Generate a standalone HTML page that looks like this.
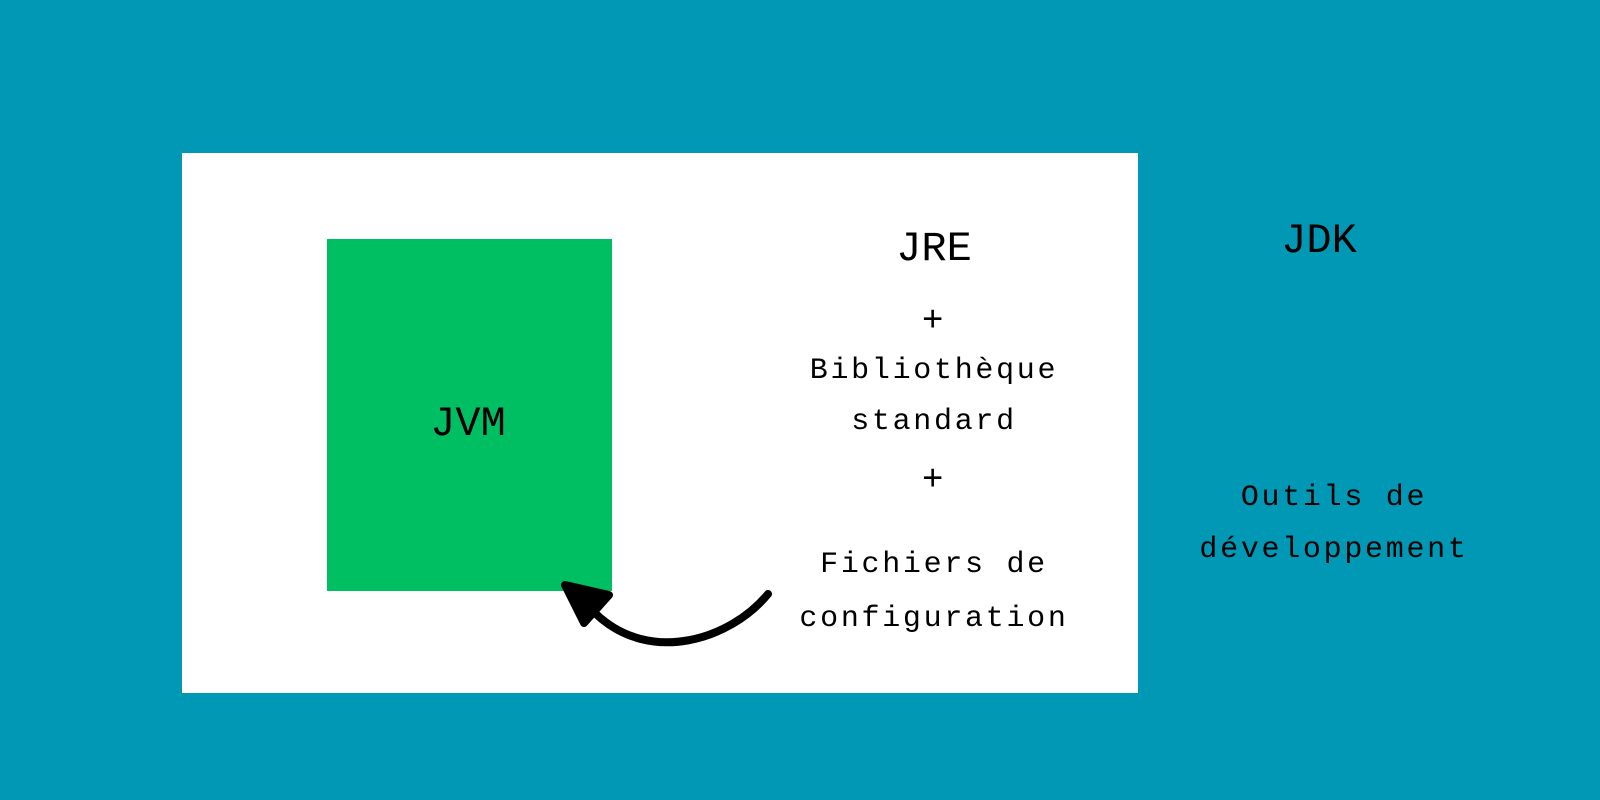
<!DOCTYPE html>
<html><head><meta charset="utf-8"><style>html,body{margin:0;padding:0;background:#0098b4;}svg{display:block}</style></head>
<body>
<svg width="1600" height="800" viewBox="0 0 1600 800" xmlns="http://www.w3.org/2000/svg">
<rect width="1600" height="800" fill="#0098b4"/>
<rect x="182" y="153" width="956" height="540" fill="#fff"/>
<rect x="327" y="239" width="285" height="352" fill="#00bf63"/>
<path d="M768 594 C 730 640, 650 665, 596 614" fill="none" stroke="#000" stroke-width="8" stroke-linecap="round"/>
<polygon points="565,585 609,595 584,623" fill="#000" stroke="#000" stroke-width="8" stroke-linejoin="round"/>
<g font-family="Liberation Mono, monospace" fill="#000" text-anchor="middle" dominant-baseline="central">
<text x="934" y="249" font-size="42">JRE</text>
<text x="1319" y="241" font-size="42">JDK</text>
<text x="468" y="424" font-size="42">JVM</text>
<g font-size="30" letter-spacing="2.7">
<text x="934" y="321" font-size="36">+</text>
<text x="934" y="371">Bibliothèque</text>
<text x="934" y="422">standard</text>
<text x="934" y="480" font-size="36">+</text>
<text x="934" y="565">Fichiers de</text>
<text x="934" y="619">configuration</text>
<text x="1334" y="498">Outils de</text>
<text x="1334" y="550">développement</text>
</g>
</g>
</svg>
</body></html>
